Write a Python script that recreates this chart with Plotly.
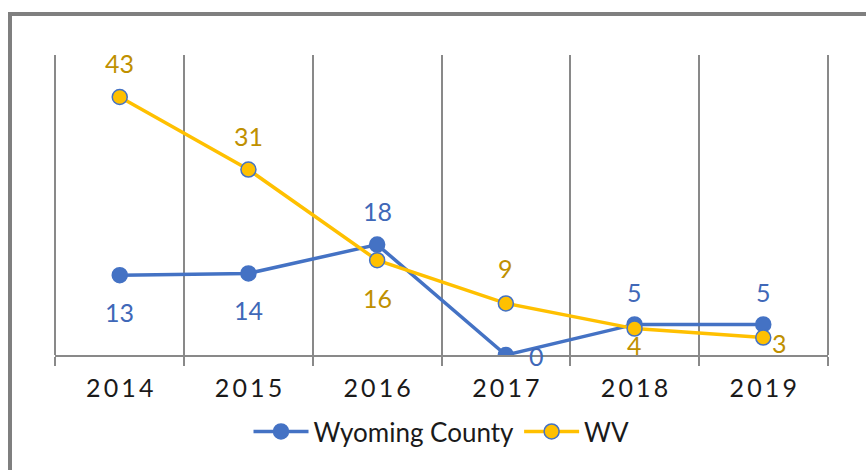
import plotly.graph_objects as go

years = ["2014", "2015", "2016", "2017", "2018", "2019"]
wyoming = [13.3, 13.6, 18.4, 0, 5.1, 5.1]
wv = [43, 30.9, 15.8, 8.6, 4.4, 2.9]

# label offsets in pixels (dx, dy screen-down positive)
wy_label_off = [(0, 37), (0, 37), (0, -34), (31, 1), (0, -32), (0, -32)]
wv_label_off = [(0, -34), (0, -34), (0, 38), (0, -35), (0, 16), (16, 5)]

BLUE = "#4472C4"
BLUE_TXT = "#4068B8"
GOLD = "#FFC000"
GOLD_TXT = "#BF9000"
GRID = "#898989"
FONT = "Lato"

fig = go.Figure()
fig.add_trace(go.Scatter(
    x=years, y=wyoming, name="Wyoming County", mode="lines+markers",
    line=dict(color=BLUE, width=3.5),
    marker=dict(size=15, color=BLUE, line=dict(color=BLUE, width=1.5)),
    hoverinfo="skip",
))
fig.add_trace(go.Scatter(
    x=years, y=wv, name="WV", mode="lines+markers",
    line=dict(color=GOLD, width=3.5),
    marker=dict(size=15, color=GOLD, line=dict(color=BLUE, width=1.5)),
    hoverinfo="skip",
))

annotations = []
for vals, offs, col in [(wyoming, wy_label_off, BLUE_TXT), (wv, wv_label_off, GOLD_TXT)]:
    for i, (v, (dx, dy)) in enumerate(zip(vals, offs)):
        annotations.append(dict(
            x=i, y=v, xref="x", yref="y", text=f"{v:.0f}", showarrow=False,
            xshift=dx, yshift=-dy, font=dict(family=FONT, size=25, color=col),
        ))

tick_text = ["\u2009".join(list(y)) for y in years]

edge_lines = [dict(type="line", xref="paper", yref="paper", x0=xe, x1=xe, y0=0, y1=1,
                   line=dict(color=GRID, width=2), layer="below") for xe in (0, 1)]

fig.update_layout(
    width=866, height=470,
    margin=dict(l=55, r=38, t=55, b=115, pad=0),
    paper_bgcolor="white", plot_bgcolor="white",
    showlegend=True,
    legend=dict(orientation="h", x=0.5, xanchor="center", y=-0.255, yanchor="middle",
                font=dict(family=FONT, size=26, color="#1a1a1a"), itemwidth=55,
                traceorder="normal"),
    xaxis=dict(
        type="category", range=[-0.503, 5.503], tickson="boundaries",
        showgrid=True, gridcolor=GRID, gridwidth=2,
        showline=True, linecolor=GRID, linewidth=2,
        ticks="outside", ticklen=9, tickcolor=GRID, tickwidth=2,
        tickvals=years, ticktext=tick_text, ticklabelstandoff=10,
        tickfont=dict(family=FONT, size=25, color="#1a1a1a"),
        zeroline=False, fixedrange=True,
    ),
    yaxis=dict(range=[0, 50], showgrid=False, showticklabels=False, zeroline=False,
               showline=False, ticks="", fixedrange=True),
    annotations=annotations,
    shapes=edge_lines + [dict(type="rect", xref="paper", yref="paper",
                 x0=(10 - 55) / 773, x1=1.2, y0=-0.6, y1=(355.5 - 14.5) / 300,
                 line=dict(color="#7f7f7f", width=4), layer="above")],
)

fig.write_html("out.html", config={"displayModeBar": False},
               post_script="document.body.style.margin='0';")
